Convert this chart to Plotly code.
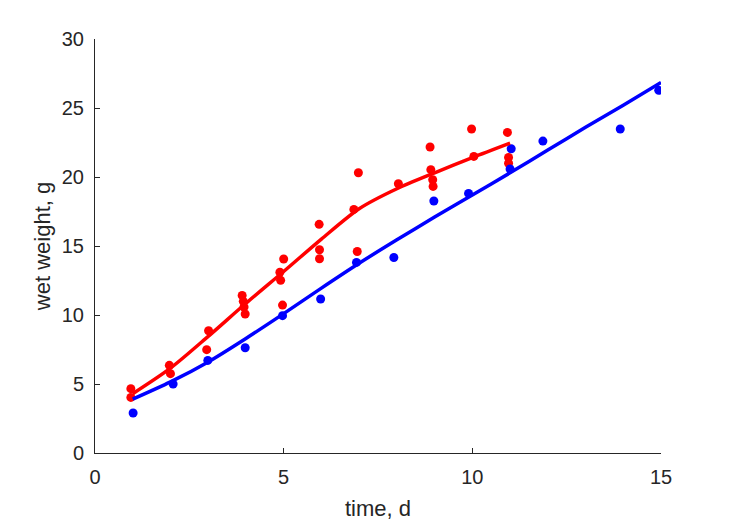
import plotly.graph_objects as go

# observed data (red group)
red_t = [0.95, 0.95, 1.97, 2.00, 3.01, 2.96, 3.90, 3.93, 3.95, 3.98,
         5.00, 4.90, 4.92, 4.97, 5.94, 5.95, 5.95, 6.98, 6.86, 6.95,
         8.04, 8.88, 8.90, 8.95, 8.96, 9.98, 10.04, 10.93, 10.96, 10.96]
red_w = [4.66, 4.03, 6.35, 5.75, 8.86, 7.49, 11.42, 10.99, 10.58, 10.07,
         14.06, 13.10, 12.51, 10.72, 16.57, 14.73, 14.08, 20.31, 17.65, 14.60,
         19.51, 22.17, 20.53, 19.80, 19.32, 23.48, 21.49, 23.23, 21.42, 21.00]

# observed data (blue group)
blue_t = [1.01, 2.07, 2.99, 3.98, 4.97, 5.98, 6.93, 7.92, 8.98, 9.90,
          11.03, 11.00, 11.87, 13.92, 14.94]
blue_w = [2.90, 5.00, 6.71, 7.63, 9.95, 11.16, 13.81, 14.17, 18.26, 18.81,
          22.05, 20.58, 22.60, 23.48, 26.28]

# fitted curves
red_fit_t = [1, 2, 3, 4, 5, 6, 7, 8, 9, 10, 11]
red_fit_w = [4.3, 6.15, 8.45, 10.85, 13.15, 15.5, 17.7, 19.15, 20.3, 21.4, 22.45]
blue_fit_t = [1, 2, 3, 4, 5, 6, 7, 8, 9, 10, 11, 12, 13, 14, 15]
blue_fit_w = [3.9, 5.15, 6.6, 8.3, 10.1, 11.95, 13.75, 15.45, 17.1, 18.7,
              20.3, 21.95, 23.6, 25.2, 26.85]

RED = "#ff0000"
BLUE = "#0000ff"
AX = "#262626"
FONT = "Liberation Sans, Arial, sans-serif"

fig = go.Figure()
fig.add_trace(go.Scatter(x=red_t, y=red_w, mode="markers",
                         marker=dict(color=RED, size=9), showlegend=False))
fig.add_trace(go.Scatter(x=blue_t, y=blue_w, mode="markers",
                         marker=dict(color=BLUE, size=9), showlegend=False))
fig.add_trace(go.Scatter(x=red_fit_t, y=red_fit_w, mode="lines",
                         line=dict(color=RED, width=3.5, shape="spline", smoothing=0.8),
                         showlegend=False))
fig.add_trace(go.Scatter(x=blue_fit_t, y=blue_fit_w, mode="lines",
                         line=dict(color=BLUE, width=3.5, shape="spline", smoothing=0.8),
                         showlegend=False))

axis_common = dict(showline=True, linecolor=AX, linewidth=1, ticks="inside",
                   ticklen=5, tickwidth=1, tickcolor=AX, showgrid=False,
                   zeroline=False, mirror=False, automargin=False,
                   tickfont=dict(family=FONT, size=20, color=AX))

fig.update_xaxes(range=[0, 15], tickvals=[0, 5, 10, 15],
                 title=dict(text="time, d", font=dict(family=FONT, size=22, color=AX),
                            standoff=13),
                 ticklabelstandoff=6, **axis_common)
fig.update_yaxes(range=[0, 30], tickvals=[0, 5, 10, 15, 20, 25, 30],
                 title=dict(text="wet weight, g", font=dict(family=FONT, size=22, color=AX),
                            standoff=5),
                 ticklabelstandoff=6, **axis_common)

# the page body adds an 8 px offset, so margins are compensated
fig.update_layout(width=729, height=521,
                  margin=dict(l=87, r=76, t=31, b=76, autoexpand=False),
                  plot_bgcolor="white", paper_bgcolor="white",
                  font=dict(family=FONT, color=AX))

fig.write_html("out.html")
